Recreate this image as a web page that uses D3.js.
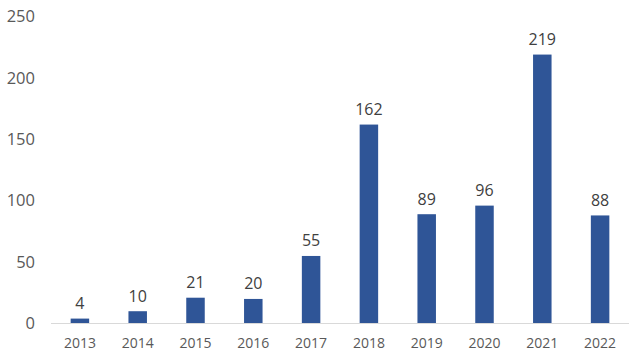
<!DOCTYPE html>
<html><head><meta charset="utf-8">
<script src="https://cdn.jsdelivr.net/npm/d3@7"></script>
<style>body{margin:0;background:#fff}svg{display:block}</style>
</head><body>
<script>
const years = ["2013","2014","2015","2016","2017","2018","2019","2020","2021","2022"];
const values = [4,10,21,20,55,162,89,96,219,88];
const yTicks = [0,50,100,150,200,250];

const W=640,H=359;
const svg=d3.select("body").append("svg").attr("width",W).attr("height",H);
const x=d3.scaleBand().domain(years).range([51,629]).paddingInner(0.68).paddingOuter(0.34);
const y=d3.scaleLinear().domain([0,250]).range([323.5,16.5]);
const font="'Open Sans', sans-serif";

// y axis labels
const ya=svg.append("g").attr("transform","translate(35,0)")
  .call(d3.axisLeft(y).tickValues(yTicks).tickSize(0).tickPadding(0));
ya.select(".domain").remove();
ya.selectAll("text").attr("font-family",font).attr("font-size",16.5).attr("fill","#595959");

// bars
svg.append("g").selectAll("rect").data(values).join("rect")
  .attr("x",(d,i)=>x(years[i])).attr("width",x.bandwidth())
  .attr("y",d=>y(d)).attr("height",d=>y(0)-y(d)).attr("fill","#2F5597");

// baseline
svg.append("line").attr("x1",51).attr("x2",629).attr("y1",y(0)).attr("y2",y(0))
  .attr("stroke","#D9D9D9").attr("stroke-width",1);

// x axis
const xa=svg.append("g").attr("transform",`translate(0,${y(0)})`)
  .call(d3.axisBottom(x).tickSize(0));
xa.select(".domain").remove();
xa.selectAll("text").attr("dy",null).attr("y",24.5).attr("font-family",font).attr("font-size",14).attr("fill","#595959");

// data labels
svg.append("g").selectAll("text").data(values).join("text")
  .attr("x",(d,i)=>x(years[i])+x.bandwidth()/2).attr("y",d=>y(d)-9.5)
  .attr("text-anchor","middle").attr("font-family",font).attr("font-size",16)
  .attr("fill","#404040").text(d=>d);
</script>
</body></html>
